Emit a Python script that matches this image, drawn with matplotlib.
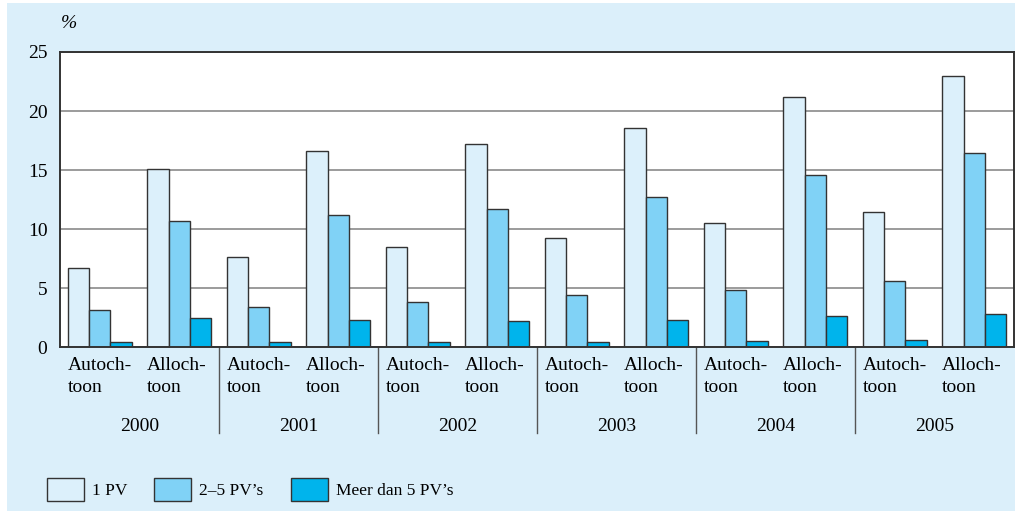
import matplotlib
matplotlib.use("Agg")
import matplotlib.pyplot as plt
import matplotlib.transforms as mtransforms
from matplotlib.patches import Patch, Rectangle
import numpy as np

years = ["2000", "2001", "2002", "2003", "2004", "2005"]
groups = ["Autoch-\ntoon", "Alloch-\ntoon"]
series_names = ["1 PV", "2\u20135 PV\u2019s", "Meer dan 5 PV\u2019s"]
one_pv = [6.7, 15.1, 7.6, 16.6, 8.5, 17.2, 9.2, 18.6, 10.5, 21.2, 11.4, 23.0]
two_five_pv = [3.1, 10.7, 3.4, 11.2, 3.8, 11.7, 4.4, 12.7, 4.8, 14.6, 5.6, 16.4]
more_five_pv = [0.4, 2.5, 0.4, 2.3, 0.4, 2.2, 0.4, 2.3, 0.5, 2.6, 0.6, 2.8]
yticks = [0, 5, 10, 15, 20, 25]

colors = ["#dcf0fb", "#80d2f6", "#00b4ec"]
bg = "#dbeffa"
edge = "#333333"

plt.rcParams['font.family'] = ['Liberation Serif', 'DejaVu Serif']
fs = 14

W, H = 1015, 511
fig = plt.figure(figsize=(W/100, H/100), dpi=100, facecolor=bg)
# white margins of the scanned page (left and top)
fig.patches.append(Rectangle((0, 0), 7/W, 1, transform=fig.transFigure,
                             facecolor="white", edgecolor="none", zorder=-1))
fig.patches.append(Rectangle((0, 1-3/H), 1, 3/H, transform=fig.transFigure,
                             facecolor="white", edgecolor="none", zorder=-1))

ax = fig.add_axes([60/W, 1-347/H, 954/W, 295/H])
ax.set_facecolor("white")

n = len(one_pv)
x = np.arange(n)
w = 0.27
for k, (vals, c) in enumerate(zip([one_pv, two_five_pv, more_five_pv], colors)):
    ax.bar(x + (k-1)*w, vals, width=w, color=c, edgecolor=edge, linewidth=1.0, zorder=3)

ax.set_xlim(-0.5, n-0.5)
ax.set_ylim(0, 25)
ax.set_yticks(yticks)
ax.set_yticklabels([str(t) for t in yticks], fontsize=fs)
ax.tick_params(axis='y', length=0, pad=9)
ax.set_xticks([])
ax.grid(axis='y', color="#8a8a8a", linewidth=1.2, zorder=0)
for s in ax.spines.values():
    s.set_color("#333333")
    s.set_linewidth(1.4)
    s.set_zorder(4)

trans = mtransforms.blended_transform_factory(ax.transData, ax.transAxes)
for i in range(n):
    ax.text(i - 1.5*w, -0.035, groups[i % 2], transform=trans, ha='left', va='top',
            fontsize=fs, linespacing=1.35, clip_on=False)
for j, yr in enumerate(years):
    ax.text(2*j + 0.5, -(426-347)/295, yr, transform=trans, ha='center', va='center',
            fontsize=fs, clip_on=False)
    if j > 0:
        ax.plot([2*j - 0.5, 2*j - 0.5], [0, -(433-347)/295], transform=trans,
                color="#555555", linewidth=1.0, clip_on=False)

fig.text(61/W, 1-24/H, "%", fontsize=fs, style='italic', ha='left', va='center')

handles = [Patch(facecolor=c, edgecolor=edge, linewidth=1.0) for c in colors]
lfs = 12.5
fig.legend(handles, series_names, loc='lower left', bbox_to_anchor=(47/W, 10/H),
           ncol=3, frameon=False, fontsize=lfs, handlelength=37*0.72/lfs,
           handleheight=1.7, handletextpad=8*0.72/lfs,
           columnspacing=27*0.72/lfs, borderaxespad=0, borderpad=0)

fig.savefig("out.png", dpi=100, facecolor=bg)
